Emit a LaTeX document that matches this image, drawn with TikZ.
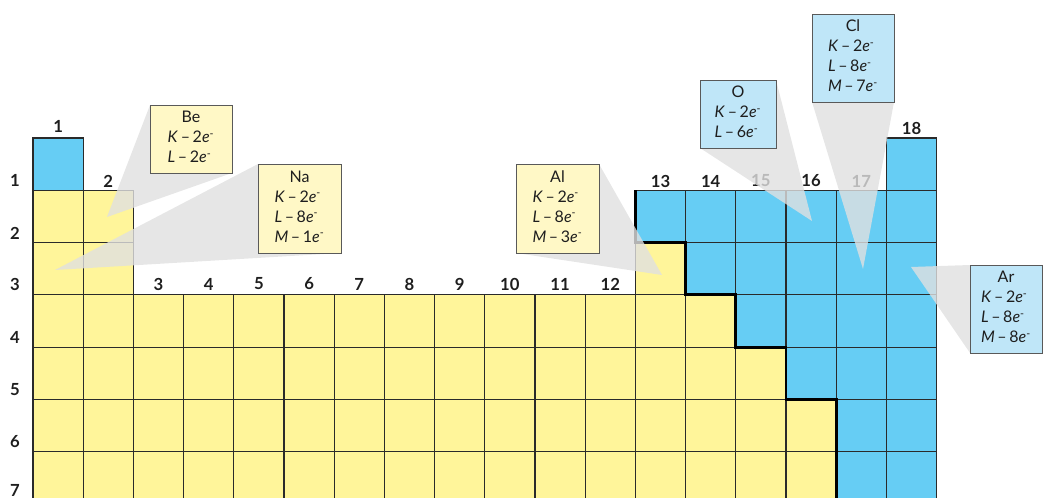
\documentclass[tikz,border=0pt]{standalone}
\usepackage{fontspec}
\setmainfont{Lato}
\definecolor{cellY}{HTML}{FFF59A}
\definecolor{cellB}{HTML}{66CDF4}
\definecolor{boxY}{HTML}{FFF8C6}
\definecolor{boxB}{HTML}{BFE6F8}
\definecolor{gridc}{HTML}{2A2A2A}
\definecolor{wedgec}{HTML}{E0E0E0}
\definecolor{txt}{HTML}{1E1E1E}
\pgfdeclarelayer{front}
\pgfsetlayers{main,front}
\newcommand{\eshell}[2]{\textit{#1}\,–\,#2\textit{e}\textsuperscript{-}}
\tikzset{
  gridline/.style={draw=gridc, line width=0.9pt},
  grplabel/.style={font=\fontsize{12.5}{14}\selectfont\bfseries, text=txt, inner sep=0pt},
  perlabel/.style={font=\fontsize{12.5}{14}\selectfont\bfseries, text=txt, inner sep=0pt},
  callbox/.style={draw=black!65, line width=0.7pt, inner sep=0pt, outer sep=0pt,
    text=txt, font=\fontsize{12}{15}\selectfont, anchor=center},
  wedge/.style={fill=wedgec, fill opacity=0.8},
  divider/.style={draw=black, line width=2.2pt, line join=miter}
}
\begin{document}
\begin{tikzpicture}[x=0.75pt,y=-0.75pt]
\useasboundingbox (0,0) rectangle (1045,498);
\clip (0,0) rectangle (1045,498);
% fills
\fill[cellB] (33,138) rectangle (83.2,190.3);
\fill[cellB] (886.4,138) rectangle (936.6,190.3);
\fill[cellB] (635.4,190.3) rectangle (936.6,504.1);
\fill[cellY] (33,190.3) rectangle (133.4,294.9);
\fill[cellY] (33,294.9) rectangle (635.4,504.1);
\fill[cellY] (635.4,242.6) rectangle (685.6,504.1);
\fill[cellY] (685.6,294.9) rectangle (735.8,504.1);
\fill[cellY] (735.8,347.2) rectangle (786,504.1);
\fill[cellY] (786,399.5) rectangle (836.2,504.1);
% grid
\foreach \r/\a/\b in {1/1/1, 1/18/18, 2/1/2, 2/13/18, 3/1/2, 3/13/18, 4/1/18, 5/1/18, 6/1/18, 7/1/18} {
  \foreach \c in {\a,...,\b} {
    \draw[gridline] ({33+50.2*(\c-1)},{138+52.3*(\r-1)}) rectangle ++(50.2,52.3);
  }
}
% metal / nonmetal divider
\draw[divider] (635.4,190.3) -- (635.4,242.6) -- (685.6,242.6) -- (685.6,294.9) -- (735.8,294.9) -- (735.8,347.2) -- (786,347.2) -- (786,399.5) -- (836.2,399.5) -- (836.2,504.1);
% group labels
\node[grplabel] (c1) at (58.1,126) {1};
\node[grplabel] (c2) at (108.3,181) {2};
\foreach \c in {3,...,12} {
  \node[grplabel] (c\c) at ({33+50.2*(\c-0.5)},284) {\c};
}
\foreach \c in {13,...,17} {
  \node[grplabel] (c\c) at ({33+50.2*(\c-0.5)},181) {\c};
}
\node[grplabel] (c18) at (911.5,128) {18};
% period labels
\foreach \r/\yy in {1/180, 2/233, 3/284, 4/337, 5/390, 6/442, 7/490} {
  \node[perlabel] (r\r) at (15,\yy) {\r};
}
% callout boxes
\begin{pgfonlayer}{front}
\node[callbox, fill=boxY, minimum width=61.5pt, minimum height=51pt] (be) at (191,139)
  {\begin{tabular}{@{}l@{}}\multicolumn{1}{@{}c@{}}{Be}\\ \eshell{K}{2}\\ \eshell{L}{2}\end{tabular}};
\node[callbox, fill=boxY, minimum width=62.25pt, minimum height=66.75pt] (na) at (299.5,208.5)
  {\begin{tabular}{@{}l@{}}\multicolumn{1}{@{}c@{}}{Na}\\ \eshell{K}{2}\\ \eshell{L}{8}\\ \eshell{M}{1}\end{tabular}};
\node[callbox, fill=boxY, minimum width=62.25pt, minimum height=66.75pt] (al) at (557.5,208.5)
  {\begin{tabular}{@{}l@{}}\multicolumn{1}{@{}c@{}}{Al}\\ \eshell{K}{2}\\ \eshell{L}{8}\\ \eshell{M}{3}\end{tabular}};
\node[callbox, fill=boxB, minimum width=57pt, minimum height=51pt] (o) at (738,114)
  {\begin{tabular}{@{}l@{}}\multicolumn{1}{@{}c@{}}{O}\\ \eshell{K}{2}\\ \eshell{L}{6}\end{tabular}};
\node[callbox, fill=boxB, minimum width=61.5pt, minimum height=66pt] (cl) at (853,58)
  {\begin{tabular}{@{}l@{}}\multicolumn{1}{@{}c@{}}{Cl}\\ \eshell{K}{2}\\ \eshell{L}{8}\\ \eshell{M}{7}\end{tabular}};
\node[callbox, fill=boxB, minimum width=54pt, minimum height=66pt] (ar) at (1006,309)
  {\begin{tabular}{@{}l@{}}\multicolumn{1}{@{}c@{}}{Ar}\\ \eshell{K}{2}\\ \eshell{L}{8}\\ \eshell{M}{8}\end{tabular}};
\end{pgfonlayer}
% pointer apexes
\coordinate (aBe) at (107,217);
\coordinate (aNa) at (55,270);
\coordinate (aAl) at (662,275);
\coordinate (aO) at (812,221);
\coordinate (aCl) at (863,269);
\coordinate (aAr) at (911,267);
% callout wedges
\fill[wedge] (aBe) -- (be.north west) -- (be.south east) -- cycle;
\fill[wedge] (aNa) -- (na.north west) -- (na.south east) -- cycle;
\fill[wedge] (aAl) -- (al.north east) -- (al.south west) -- cycle;
\fill[wedge] (aO) -- (o.north east) -- (o.south west) -- cycle;
\fill[wedge] (aCl) -- (cl.south west) -- (cl.south east) -- cycle;
\fill[wedge] (aAr) -- (ar.north west) -- (ar.south west) -- cycle;
\end{tikzpicture}
\end{document}
